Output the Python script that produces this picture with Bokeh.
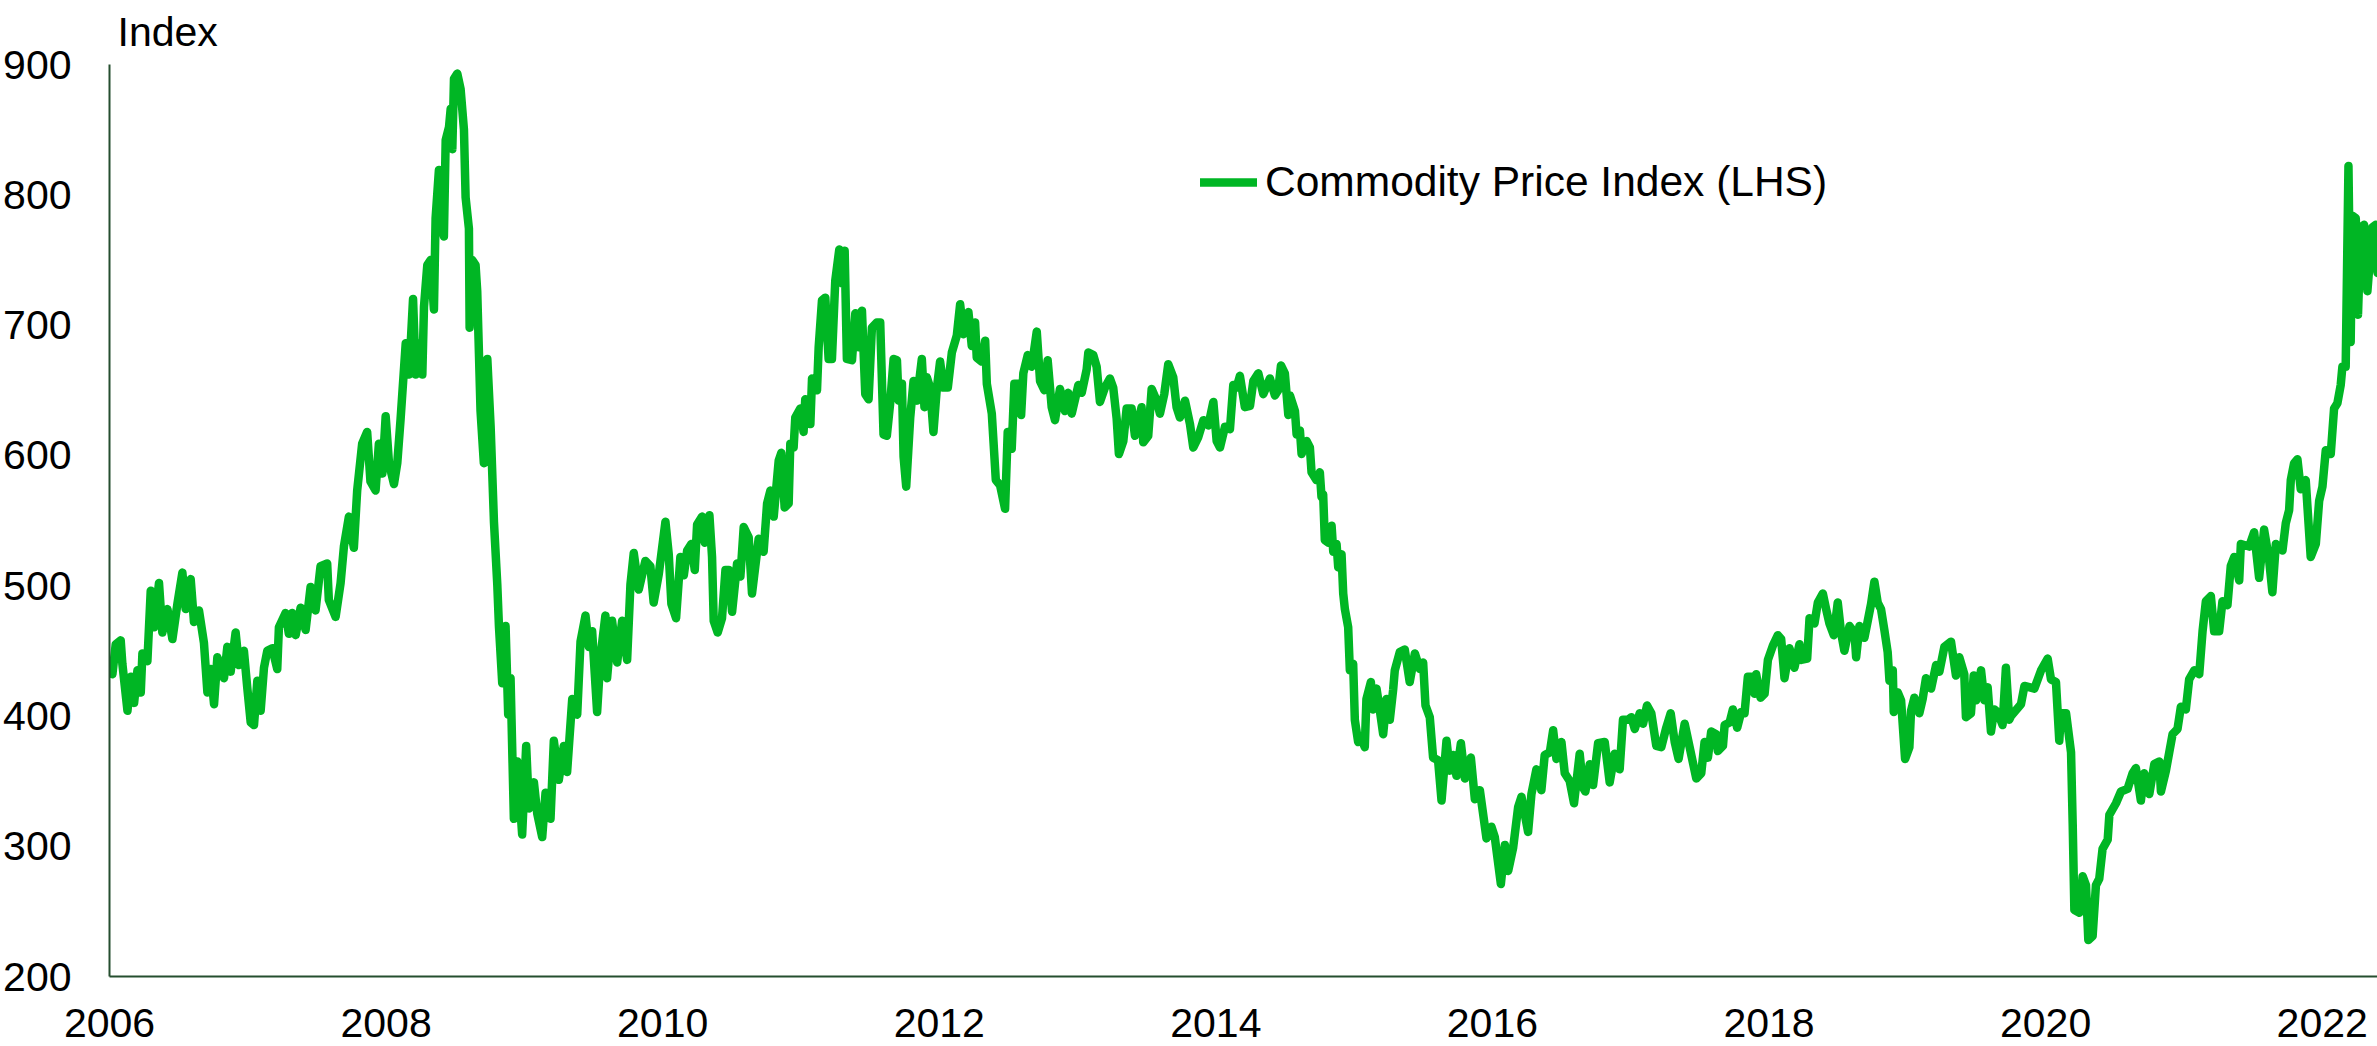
from bokeh.plotting import figure
from bokeh.models import FixedTicker, Legend, LegendItem, Range1d, ColumnDataSource
from bokeh.embed import file_html
from bokeh.resources import INLINE

# ---- data: weekly-ish readings (decimal year, index level) ----
t_2006 = [2006.002, 2006.021, 2006.045, 2006.081, 2006.093, 2006.130, 2006.154, 2006.178, 2006.202, 2006.226,
          2006.238, 2006.274, 2006.298, 2006.322, 2006.358, 2006.382, 2006.419, 2006.455, 2006.491, 2006.527,
          2006.551, 2006.587, 2006.611, 2006.647, 2006.683, 2006.708, 2006.732, 2006.756, 2006.780, 2006.828,
          2006.852, 2006.876, 2006.912, 2006.936, 2006.972, 2006.996, 2007.021, 2007.045, 2007.069, 2007.093,
          2007.117, 2007.141, 2007.177, 2007.213, 2007.225, 2007.273, 2007.297, 2007.321, 2007.346, 2007.382,
          2007.418, 2007.454, 2007.490, 2007.526, 2007.574, 2007.586, 2007.635, 2007.671, 2007.695, 2007.731,
          2007.767, 2007.791, 2007.827, 2007.863, 2007.887, 2007.924, 2007.948]
v_2006 = [438, 432, 455, 458, 440, 404, 430, 410, 435, 418,
          448, 442, 496, 468, 502, 464, 482, 459, 486, 510,
          482, 505, 472, 481, 456, 418, 436, 409, 445, 429,
          453, 434, 464, 439, 450, 422, 395, 393, 427, 404,
          437, 450, 452, 436, 468, 479, 463, 479, 462, 483,
          466, 499, 481, 515, 517, 489, 476, 502, 530, 553,
          529, 573, 609, 618, 580, 573, 609]

t_2008 = [2007.973, 2007.997, 2008.021, 2008.057, 2008.081, 2008.105, 2008.142, 2008.166, 2008.195, 2008.214,
          2008.250, 2008.262, 2008.274, 2008.298, 2008.322, 2008.346, 2008.358, 2008.382, 2008.418, 2008.431,
          2008.455, 2008.467, 2008.479, 2008.491, 2008.515, 2008.539, 2008.563, 2008.575, 2008.599, 2008.604,
          2008.623, 2008.647, 2008.659, 2008.683, 2008.707, 2008.732, 2008.756, 2008.780, 2008.804, 2008.816,
          2008.840, 2008.864, 2008.883, 2008.900, 2008.924, 2008.948, 2008.984, 2009.013, 2009.033, 2009.069,
          2009.093, 2009.129, 2009.153, 2009.189, 2009.213, 2009.249, 2009.285, 2009.309, 2009.346, 2009.382,
          2009.406, 2009.442, 2009.466, 2009.490, 2009.526, 2009.550, 2009.586, 2009.598, 2009.634, 2009.671,
          2009.707, 2009.743, 2009.767, 2009.791, 2009.827, 2009.875, 2009.911, 2009.935, 2009.972]
v_2008 = [586, 630, 594, 578, 594, 628, 686, 662, 720, 662,
          686, 662, 714, 746, 750, 712, 782, 819, 768, 842,
          852, 866, 835, 889, 893, 881, 850, 798, 774, 698,
          750, 746, 726, 634, 594, 674, 622, 549, 501, 469,
          425, 469, 401, 429, 321, 365, 309, 377, 329, 349,
          325, 307, 341, 321, 381, 351, 377, 357, 413, 401,
          457, 477, 453, 465, 403, 445, 477, 429, 473, 441,
          473, 443, 501, 525, 497, 519, 515, 487, 509]

t_2010 = [2010.020, 2010.044, 2010.063, 2010.097, 2010.128, 2010.153, 2010.177, 2010.208, 2010.232, 2010.249,
          2010.285, 2010.304, 2010.338, 2010.357, 2010.369, 2010.398, 2010.429, 2010.454, 2010.478, 2010.502,
          2010.538, 2010.562, 2010.586, 2010.622, 2010.646, 2010.694, 2010.730, 2010.755, 2010.779, 2010.803,
          2010.839, 2010.858, 2010.882, 2010.911, 2010.923, 2010.947, 2010.959, 2010.995, 2011.019, 2011.031,
          2011.068, 2011.080, 2011.116, 2011.128, 2011.152, 2011.176, 2011.200, 2011.224, 2011.248, 2011.277,
          2011.296, 2011.316, 2011.332, 2011.369, 2011.393, 2011.417, 2011.441, 2011.465, 2011.489, 2011.513,
          2011.549, 2011.573, 2011.597, 2011.621, 2011.645, 2011.670, 2011.694, 2011.706, 2011.730, 2011.742,
          2011.761, 2011.790, 2011.814, 2011.838]
v_2010 = [549, 524, 486, 475, 522, 508, 527, 532, 512, 547,
          553, 533, 554, 522, 473, 464, 475, 512, 512, 480,
          517, 507, 545, 537, 494, 536, 526, 563, 573, 553,
          596, 602, 560, 563, 609, 606, 629, 636, 618, 643,
          624, 659, 650, 683, 719, 721, 674, 674, 734, 758,
          732, 757, 674, 673, 709, 683, 711, 647, 643, 698,
          702, 702, 616, 615, 640, 674, 673, 642, 655, 599,
          576, 629, 657, 642]

t_2012 = [2011.874, 2011.893, 2011.910, 2011.934, 2011.958, 2011.982, 2012.006, 2012.031, 2012.062, 2012.091,
          2012.127, 2012.151, 2012.175, 2012.211, 2012.235, 2012.259, 2012.271, 2012.307, 2012.332, 2012.344,
          2012.380, 2012.409, 2012.440, 2012.476, 2012.495, 2012.524, 2012.543, 2012.572, 2012.592, 2012.608,
          2012.640, 2012.669, 2012.705, 2012.729, 2012.760, 2012.784, 2012.813, 2012.837, 2012.873, 2012.909,
          2012.933, 2012.958, 2013.006, 2013.030, 2013.066, 2013.078, 2013.114, 2013.138, 2013.162, 2013.198,
          2013.234, 2013.258, 2013.283, 2013.299, 2013.331, 2013.355, 2013.391, 2013.415, 2013.463, 2013.475,
          2013.511, 2013.536, 2013.572, 2013.596, 2013.627, 2013.656, 2013.692, 2013.716, 2013.740]
v_2012 = [674, 637, 660, 652, 618, 651, 672, 652, 652, 679,
          692, 716, 693, 710, 684, 702, 675, 672, 688, 655,
          632, 581, 577, 559, 618, 605, 655, 655, 631, 663,
          677, 668, 695, 657, 650, 673, 637, 627, 651, 634,
          648, 632, 654, 648, 666, 679, 677, 668, 641, 652,
          659, 652, 628, 601, 611, 636, 636, 615, 637, 610,
          615, 651, 642, 632, 647, 670, 660, 637, 629]

t_2014 = [2013.777, 2013.813, 2013.837, 2013.873, 2013.910, 2013.946, 2013.982, 2014.006, 2014.030, 2014.066,
          2014.102, 2014.126, 2014.150, 2014.174, 2014.210, 2014.247, 2014.271, 2014.307, 2014.343, 2014.391,
          2014.427, 2014.451, 2014.471, 2014.499, 2014.524, 2014.536, 2014.572, 2014.584, 2014.608, 2014.620,
          2014.656, 2014.680, 2014.692, 2014.728, 2014.752, 2014.764, 2014.776, 2014.788, 2014.813, 2014.837,
          2014.849, 2014.873, 2014.885, 2014.909, 2014.921, 2014.933, 2014.957, 2014.969, 2014.993, 2015.005,
          2015.029, 2015.053, 2015.077, 2015.089, 2015.121, 2015.137, 2015.162, 2015.186, 2015.210, 2015.234,
          2015.258, 2015.282, 2015.294, 2015.330, 2015.366, 2015.402, 2015.439, 2015.475, 2015.499, 2015.516,
          2015.547, 2015.571, 2015.607]
v_2014 = [642, 624, 606, 614, 627, 623, 641, 611, 606, 622,
          620, 654, 652, 661, 637, 638, 657, 663, 647, 659,
          646, 650, 669, 663, 631, 646, 634, 616, 619, 601,
          611, 606, 587, 581, 587, 568, 570, 535, 533, 546,
          526, 532, 514, 524, 494, 482, 468, 435, 440, 397,
          380, 382, 376, 413, 426, 405, 421, 404, 386, 413,
          397, 420, 435, 449, 451, 426, 448, 436, 441, 408,
          399, 368, 366]

t_2016 = [2015.632, 2015.668, 2015.692, 2015.716, 2015.740, 2015.772, 2015.801, 2015.844, 2015.873, 2015.909,
          2015.957, 2015.993, 2016.017, 2016.061, 2016.090, 2016.114, 2016.150, 2016.186, 2016.210, 2016.258,
          2016.282, 2016.318, 2016.354, 2016.378, 2016.415, 2016.439, 2016.463, 2016.499, 2016.523, 2016.559,
          2016.590, 2016.631, 2016.655, 2016.672, 2016.704, 2016.728, 2016.764, 2016.812, 2016.848, 2016.884,
          2016.920, 2016.944, 2016.980, 2017.005, 2017.029, 2017.065, 2017.089, 2017.118, 2017.149, 2017.185,
          2017.221, 2017.257, 2017.289, 2017.318, 2017.346, 2017.390, 2017.426, 2017.474]
v_2016 = [335, 381, 358, 370, 354, 379, 352, 368, 336, 343,
          306, 315, 307, 271, 301, 281, 299, 330, 338, 311,
          340, 359, 343, 370, 372, 389, 367, 380, 356, 350,
          333, 371, 345, 342, 363, 347, 379, 380, 349, 371,
          359, 397, 397, 399, 390, 402, 394, 408, 402, 377,
          376, 391, 402, 380, 367, 394, 376, 352]

t_2018 = [2017.510, 2017.534, 2017.558, 2017.582, 2017.618, 2017.630, 2017.667, 2017.679, 2017.715, 2017.739,
          2017.770, 2017.799, 2017.823, 2017.847, 2017.871, 2017.895, 2017.907, 2017.939, 2017.968, 2017.992,
          2018.028, 2018.064, 2018.088, 2018.112, 2018.148, 2018.184, 2018.220, 2018.232, 2018.276, 2018.293,
          2018.329, 2018.353, 2018.389, 2018.413, 2018.437, 2018.468, 2018.497, 2018.521, 2018.545, 2018.582,
          2018.618, 2018.630, 2018.654, 2018.690, 2018.714, 2018.738, 2018.762, 2018.786, 2018.810, 2018.834,
          2018.858, 2018.871, 2018.895, 2018.902, 2018.931, 2018.955, 2018.984, 2019.015, 2019.027, 2019.051,
          2019.087, 2019.111, 2019.135, 2019.172, 2019.208, 2019.232, 2019.268, 2019.316, 2019.352, 2019.376,
          2019.412, 2019.424, 2019.460, 2019.480, 2019.497, 2019.533, 2019.557, 2019.581, 2019.605, 2019.629,
          2019.653, 2019.689, 2019.713, 2019.737]
v_2018 = [356, 380, 368, 388, 386, 373, 377, 393, 395, 405,
          391, 403, 402, 430, 430, 417, 432, 414, 417, 443,
          454, 462, 459, 429, 452, 437, 455, 443, 444, 475,
          471, 487, 494, 482, 471, 462, 487, 464, 450, 469,
          464, 445, 469, 460, 473, 486, 503, 487, 482, 466,
          449, 427, 435, 403, 418, 412, 367, 376, 404, 414,
          402, 413, 429, 421, 439, 434, 453, 457, 431, 445,
          432, 399, 402, 431, 412, 435, 412, 422, 388, 405,
          403, 393, 437, 397]

t_2020 = [2019.750, 2019.822, 2019.847, 2019.919, 2019.967, 2020.015, 2020.039, 2020.075, 2020.099, 2020.111,
          2020.148, 2020.184, 2020.196, 2020.208, 2020.244, 2020.268, 2020.292, 2020.309, 2020.340, 2020.364,
          2020.388, 2020.412, 2020.449, 2020.461, 2020.509, 2020.545, 2020.593, 2020.629, 2020.653, 2020.689,
          2020.713, 2020.750, 2020.786, 2020.822, 2020.834, 2020.870, 2020.894, 2020.918, 2020.954, 2020.978,
          2021.014, 2021.038, 2021.075, 2021.111, 2021.135, 2021.159, 2021.195, 2021.219, 2021.255, 2021.279,
          2021.315, 2021.339, 2021.364, 2021.400, 2021.412, 2021.472, 2021.508, 2021.544, 2021.580, 2021.616,
          2021.640, 2021.665, 2021.713, 2021.737, 2021.761, 2021.773, 2021.797, 2021.821, 2021.845, 2021.881,
          2021.917, 2021.954, 2021.978, 2022.002, 2022.026, 2022.062, 2022.086, 2022.110, 2022.134, 2022.146,
          2022.170, 2022.190, 2022.206, 2022.218, 2022.243, 2022.259, 2022.279, 2022.303, 2022.327, 2022.363,
          2022.387, 2022.400]
v_2020 = [400, 409, 423, 421, 435, 444, 428, 426, 381, 402,
          402, 372, 317, 251, 249, 277, 270, 228, 231, 270,
          275, 298, 305, 324, 333, 342, 344, 356, 360, 335,
          356, 340, 363, 365, 342, 358, 372, 386, 390, 407,
          405, 428, 435, 432, 465, 488, 492, 465, 465, 488,
          485, 515, 522, 504, 532, 530, 541, 506, 543, 520,
          495, 532, 527, 548, 558, 581, 594, 597, 574, 581,
          522, 532, 565, 576, 604, 601, 636, 640, 654, 668,
          668, 822, 687, 784, 782, 708, 775, 777, 726, 775,
          777, 740]

dates = t_2006 + t_2008 + t_2010 + t_2012 + t_2014 + t_2016 + t_2018 + t_2020
values = v_2006 + v_2008 + v_2010 + v_2012 + v_2014 + v_2016 + v_2018 + v_2020

x_ticks = [2006, 2008, 2010, 2012, 2014, 2016, 2018, 2020, 2022]
y_ticks = [200, 300, 400, 500, 600, 700, 800, 900]
series_name = "Commodity Price Index (LHS)"
axis_title = "Index"

FONT = "Liberation Sans"
GREEN = "#00B624"
AXIS = "#254E2F"

src = ColumnDataSource(data=dict(date=dates, value=values))

p = figure(width=2377, height=1046, output_backend="svg", toolbar_location=None,
           x_range=Range1d(2006, 2022.40), y_range=Range1d(200, 900),
           min_border_left=107, min_border_right=0, min_border_top=64, min_border_bottom=70)

p.title.text = axis_title
p.title.align = "left"
p.title.vertical_align = "top"
p.title.offset = 8
p.title.text_font = FONT
p.title.text_font_size = "41px"
p.title.text_font_style = "normal"
p.title.text_color = "black"
p.title.standoff = 15

p.outline_line_color = None
p.xgrid.grid_line_color = None
p.ygrid.grid_line_color = None
p.background_fill_color = "white"
p.border_fill_color = "white"

for ax in (p.xaxis[0], p.yaxis[0]):
    ax.axis_line_color = AXIS
    ax.axis_line_width = 2
    ax.major_tick_line_color = None
    ax.minor_tick_line_color = None
    ax.major_tick_out = 0
    ax.major_tick_in = 0
    ax.minor_tick_out = 0
    ax.minor_tick_in = 0
    ax.axis_label = None
    ax.axis_label_standoff = 0
    ax.major_label_text_font = FONT
    ax.major_label_text_font_size = "41px"
    ax.major_label_text_color = "black"

p.xaxis[0].ticker = FixedTicker(ticks=x_ticks)
p.yaxis[0].ticker = FixedTicker(ticks=y_ticks)
p.xaxis[0].major_label_standoff = 32
p.xaxis[0].major_label_text_line_height = 0.75
p.yaxis[0].major_label_standoff = 38

r = p.line("date", "value", source=src, line_color=GREEN, line_width=8.5,
           line_join="round", line_cap="round")

legend = Legend(items=[LegendItem(label=series_name, renderers=[r])],
                location=(1091, 770), orientation="vertical",
                label_text_font=FONT, label_text_font_size="42.5px", label_text_color="black",
                glyph_width=57, glyph_height=42, label_height=42, label_standoff=8,
                padding=0, margin=0, spacing=0,
                border_line_color=None, background_fill_alpha=0)
p.add_layout(legend)

open("out.html", "w").write(file_html(p, INLINE))
